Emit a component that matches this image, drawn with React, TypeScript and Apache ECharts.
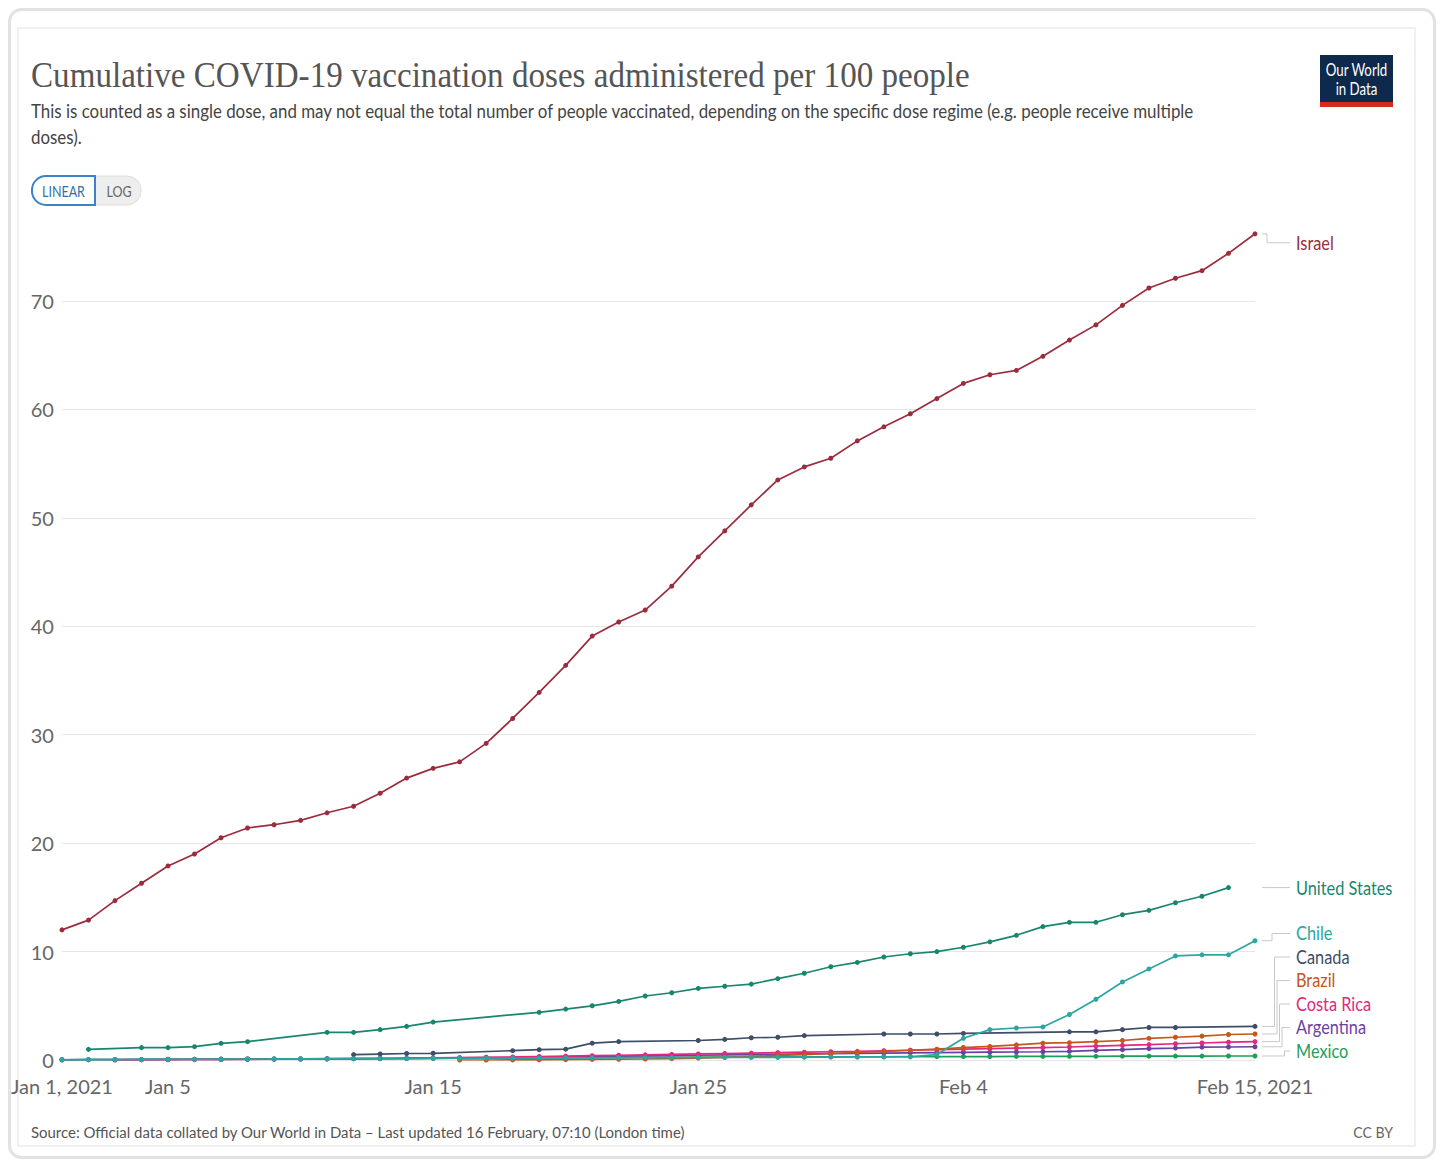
import React, { useEffect, useRef } from "react";
import * as echarts from "echarts";

const dates = [
  "Jan 1", "Jan 2", "Jan 3", "Jan 4", "Jan 5", "Jan 6", "Jan 7", "Jan 8", "Jan 9", "Jan 10",
  "Jan 11", "Jan 12", "Jan 13", "Jan 14", "Jan 15", "Jan 16", "Jan 17", "Jan 18", "Jan 19", "Jan 20",
  "Jan 21", "Jan 22", "Jan 23", "Jan 24", "Jan 25", "Jan 26", "Jan 27", "Jan 28", "Jan 29", "Jan 30",
  "Jan 31", "Feb 1", "Feb 2", "Feb 3", "Feb 4", "Feb 5", "Feb 6", "Feb 7", "Feb 8", "Feb 9",
  "Feb 10", "Feb 11", "Feb 12", "Feb 13", "Feb 14", "Feb 15",
];

const tickDates = ["Jan 1", "Jan 5", "Jan 15", "Jan 25", "Feb 4", "Feb 15"];
const tickTexts = ["Jan 1, 2021", "Jan 5", "Jan 15", "Jan 25", "Feb 4", "Feb 15, 2021"];
const yTicks = [0, 10, 20, 30, 40, 50, 60, 70];

const israel = [
  12.0, 12.9, 14.7, 16.3, 17.9, 19.0, 20.5, 21.4, 21.7, 22.1,
  22.8, 23.4, 24.6, 26.0, 26.9, 27.5, 29.2, 31.5, 33.9, 36.4,
  39.1, 40.4, 41.5, 43.7, 46.4, 48.8, 51.2, 53.5, 54.7, 55.5,
  57.1, 58.4, 59.6, 61.0, 62.4, 63.2, 63.6, 64.9, 66.4, 67.8,
  69.6, 71.2, 72.1, 72.8, 74.4, 76.2,
];

const unitedStates = [
  null, 0.98, null, 1.14, 1.14, 1.23, 1.54, 1.69, null, null,
  2.55, 2.55, 2.8, 3.1, 3.5, null, null, null, 4.4, 4.7,
  5.0, 5.4, 5.9, 6.2, 6.6, 6.8, 7.0, 7.5, 8.0, 8.6,
  9.0, 9.5, 9.8, 10.0, 10.4, 10.9, 11.5, 12.3, 12.7, 12.7,
  13.4, 13.8, 14.5, 15.1, 15.9, null,
];

const chile = [
  0.02, 0.03, 0.04, 0.05, 0.06, 0.07, 0.08, 0.09, 0.1, 0.1,
  0.11, 0.12, 0.13, 0.14, 0.15, 0.16, 0.17, 0.18, 0.19, 0.2,
  0.2, 0.21, 0.22, 0.22, 0.23, 0.24, 0.25, 0.25, 0.26, 0.27,
  0.28, 0.29, 0.3, 0.5, 2.0, 2.8, 2.95, 3.05, 4.2, 5.6,
  7.2, 8.4, 9.6, 9.7, 9.7, 11.0,
];

const canada = [
  null, null, null, null, null, null, null, null, null, null,
  null, 0.5, 0.55, 0.6, 0.62, null, null, 0.86, 0.95, 1.0,
  1.55, 1.7, null, null, 1.8, 1.9, 2.05, 2.1, 2.25, null,
  null, 2.4, 2.4, 2.4, 2.45, null, null, null, 2.6, 2.6,
  2.8, 3.0, 3.0, null, null, 3.1,
];

const brazil = [
  null, null, null, null, null, null, null, null, null, null,
  null, null, null, null, null, 0.0, 0.0, 0.01, 0.02, 0.03,
  0.05, 0.07, 0.09, 0.12, 0.18, 0.25, 0.33, 0.42, 0.5, 0.6,
  0.7, 0.8, 0.9, 1.0, 1.15, 1.25, 1.4, 1.55, 1.6, 1.7,
  1.8, 2.0, 2.1, 2.2, 2.35, 2.4,
];

const costaRica = [
  null, null, 0.0, 0.01, 0.02, 0.03, 0.04, 0.06, 0.07, 0.08,
  0.1, 0.12, 0.14, 0.17, 0.2, 0.22, 0.25, 0.28, 0.32, 0.36,
  0.4, 0.44, 0.48, 0.52, 0.56, 0.6, 0.64, 0.68, 0.72, 0.76,
  0.8, 0.85, 0.9, 0.95, 1.0, 1.05, 1.1, 1.15, 1.2, 1.28,
  1.35, 1.42, 1.5, 1.57, 1.64, 1.7,
];

const argentina = [
  0.02, 0.03, 0.04, 0.05, 0.06, 0.07, 0.08, 0.09, 0.1, 0.11,
  0.12, 0.13, 0.14, 0.15, 0.17, 0.19, 0.21, 0.23, 0.26, 0.29,
  0.32, 0.35, 0.38, 0.41, 0.44, 0.47, 0.5, 0.53, 0.56, 0.59,
  0.62, 0.64, 0.66, 0.68, 0.7, 0.72, 0.74, 0.76, 0.8, 0.88,
  0.95, 1.05, 1.1, 1.18, 1.2, 1.22,
];

const mexico = [
  0.02, 0.03, 0.03, 0.04, 0.05, 0.06, 0.06, 0.07, 0.08, 0.09,
  0.1, 0.11, 0.12, 0.13, 0.15, 0.16, 0.17, 0.18, 0.19, 0.2,
  0.21, 0.22, 0.24, 0.25, 0.26, 0.27, 0.28, 0.28, 0.29, 0.3,
  0.3, 0.3, 0.31, 0.31, 0.32, 0.32, 0.33, 0.33, 0.34, 0.34,
  0.35, 0.35, 0.36, 0.36, 0.37, 0.37,
];

const seriesNames = ["Israel", "United States", "Chile", "Canada", "Brazil", "Costa Rica", "Argentina", "Mexico"];
const seriesData = [israel, unitedStates, chile, canada, brazil, costaRica, argentina, mexico];
const seriesColors = ["#9B2C3E", "#18866F", "#2BA6A0", "#3E4D68", "#C4561E", "#E3287D", "#6C3FA3", "#1D9E5A"];

const titleText = "Cumulative COVID-19 vaccination doses administered per 100 people";
const subtitleText =
  "This is counted as a single dose, and may not equal the total number of people vaccinated, depending on the specific dose regime (e.g. people receive multiple\ndoses).";
const sourceText =
  "Source: Official data collated by Our World in Data – Last updated 16 February, 07:10 (London time)";

const W = 1428;
const H = 1151;
const SANS = "Lato, 'Noto Sans', sans-serif";

export default function App() {
  const ref = useRef<HTMLDivElement>(null);

  useEffect(() => {
    if (!ref.current) return;
    const chart = echarts.init(ref.current, null, { renderer: "svg" });

    const gridLineColors = yTicks.map(() => "#e6e6e6").concat(["rgba(0,0,0,0)"]);

    chart.setOption({
      animation: false,
      backgroundColor: "#ffffff",
      textStyle: { fontFamily: SANS },
      grid: { left: 50, right: 181, top: 184.6, bottom: 99, containLabel: false },
      xAxis: {
        type: "category",
        data: dates,
        boundaryGap: false,
        axisLine: { show: false },
        axisTick: { show: false },
        splitLine: { show: false },
        axisLabel: {
          interval: (_i: number, v: string) => tickDates.includes(v),
          formatter: (v: string) => tickTexts[tickDates.indexOf(v)] ?? "",
          color: "#666666",
          fontSize: 20,
          fontFamily: SANS,
          margin: 16,
        },
      },
      yAxis: {
        type: "value",
        min: 0,
        max: 80,
        interval: 10,
        axisLine: { show: false },
        axisTick: { show: false },
        axisLabel: {
          formatter: (v: number) => (v === 80 ? "" : String(v)),
          color: "#666666",
          fontSize: 20,
          fontFamily: SANS,
          margin: 8,
        },
        splitLine: { show: true, lineStyle: { color: gridLineColors, width: 1 } },
      },
      series: seriesNames.map((name, i) => ({
        name,
        type: "line",
        data: seriesData[i],
        connectNulls: true,
        symbol: "circle",
        symbolSize: 5,
        showSymbol: true,
        lineStyle: { width: 1.7, color: seriesColors[i] },
        itemStyle: { color: seriesColors[i] },
        emphasis: { disabled: true },
        z: 2 + (seriesNames.length - i),
      })),
    });

    // End labels computed from the library's scales
    const lastIdx = dates.length - 1;
    const zeroY = (chart.convertToPixel({ gridIndex: 0 }, [0, 0]) as number[])[1];
    const endX = (chart.convertToPixel({ gridIndex: 0 }, [lastIdx, 0]) as number[])[0];
    const items = seriesNames.map((name, i) => {
      const d = seriesData[i];
      let v = 0;
      for (let k = d.length - 1; k >= 0; k--) {
        if (d[k] != null) { v = d[k] as number; break; }
      }
      const y = (chart.convertToPixel({ gridIndex: 0 }, [lastIdx, v]) as number[])[1];
      return { name, color: seriesColors[i], ideal: y, pos: y };
    });
    const sorted = [...items].sort((a, b) => b.ideal - a.ideal);
    const gap = 23.5;
    let prev = Infinity;
    sorted.forEach((it) => {
      let p = Math.min(it.ideal, zeroY - 9);
      p = Math.min(p, prev - gap);
      it.pos = p;
      prev = p;
    });
    const topDown = [...items].sort((a, b) => a.pos - b.pos);
    // the top label sits a little below its point, as in the reference
    if (topDown.length) topDown[0].pos = topDown[0].ideal + 9;
    const labelX = endX + 41;
    const labelGraphics: any[] = [];
    topDown.forEach((it, idx) => {
      const elbow = endX + 12 + idx * 2.5;
      labelGraphics.push({
        type: "polyline",
        shape: {
          points: [
            [endX + 7, it.ideal],
            [elbow, it.ideal],
            [elbow, it.pos],
            [labelX - 6, it.pos],
          ],
        },
        style: { stroke: "#c8c8c8", lineWidth: 1, fill: null },
        silent: true,
      });
      labelGraphics.push({
        type: "text",
        x: labelX,
        y: it.pos,
        scaleX: 0.86,
        style: {
          text: it.name,
          fill: it.color,
          fontSize: 19,
          fontFamily: SANS,
          verticalAlign: "middle",
          align: "left",
        },
        silent: true,
      });
    });

    const staticGraphics: any[] = [
      {
        type: "rect",
        shape: { x: 1.5, y: 1.5, width: W - 3, height: H - 3, r: 12 },
        style: { stroke: "#e2e2e2", lineWidth: 3, fill: null },
        silent: true,
      },
      {
        type: "rect",
        shape: { x: 10, y: 20, width: 1397, height: 1118 },
        style: { stroke: "#ececec", lineWidth: 1.5, fill: null },
        silent: true,
      },
      {
        type: "text",
        x: 23,
        y: 67,
        scaleX: 0.92,
        style: {
          text: titleText,
          fill: "#555555",
          fontSize: 36,
          fontFamily: "'Liberation Serif', 'DejaVu Serif', serif",
          verticalAlign: "middle",
        },
        silent: true,
      },
      {
        type: "text",
        x: 23,
        y: 90,
        scaleX: 0.89,
        style: {
          text: subtitleText,
          fill: "#444444",
          fontSize: 19,
          lineHeight: 26,
          fontFamily: SANS,
          verticalAlign: "top",
        },
        silent: true,
      },
      // LINEAR / LOG toggle
      {
        type: "rect",
        shape: { x: 86, y: 168, width: 47, height: 29, r: [0, 14, 14, 0] },
        style: { fill: "#eeeeee", stroke: "#dddddd", lineWidth: 1 },
        silent: true,
      },
      {
        type: "rect",
        shape: { x: 24, y: 168, width: 63, height: 29, r: [14, 0, 0, 14] },
        style: { fill: "#ffffff", stroke: "#3b82c9", lineWidth: 2 },
        silent: true,
      },
      {
        type: "text",
        x: 55.5,
        y: 182.5,
        scaleX: 0.78,
        style: { text: "LINEAR", fill: "#2f6fb5", fontSize: 16, fontFamily: SANS, align: "center", verticalAlign: "middle" },
        silent: true,
      },
      {
        type: "text",
        x: 111,
        y: 182.5,
        scaleX: 0.78,
        style: { text: "LOG", fill: "#666666", fontSize: 16, fontFamily: SANS, align: "center", verticalAlign: "middle" },
        silent: true,
      },
      // logo
      {
        type: "rect",
        shape: { x: 1312, y: 47, width: 73, height: 47 },
        style: { fill: "#0d2a4d" },
        silent: true,
      },
      {
        type: "rect",
        shape: { x: 1312, y: 94, width: 73, height: 5 },
        style: { fill: "#d42b21" },
        silent: true,
      },
      {
        type: "text",
        x: 1348.5,
        y: 61,
        scaleX: 0.78,
        style: { text: "Our World", fill: "#ffffff", fontSize: 17, fontFamily: SANS, align: "center", verticalAlign: "middle" },
        silent: true,
      },
      {
        type: "text",
        x: 1348.5,
        y: 80,
        scaleX: 0.78,
        style: { text: "in Data", fill: "#ffffff", fontSize: 17, fontFamily: SANS, align: "center", verticalAlign: "middle" },
        silent: true,
      },
      // footer
      {
        type: "text",
        x: 23,
        y: 1124,
        scaleX: 0.935,
        style: { text: sourceText, fill: "#555555", fontSize: 16, fontFamily: SANS, verticalAlign: "middle" },
        silent: true,
      },
      {
        type: "text",
        x: 1385,
        y: 1124,
        scaleX: 0.88,
        style: { text: "CC BY", fill: "#666666", fontSize: 16, fontFamily: SANS, align: "right", verticalAlign: "middle" },
        silent: true,
      },
    ];

    chart.setOption({ graphic: [...staticGraphics, ...labelGraphics] });

    return () => chart.dispose();
  }, []);

  return (
    <div style={{ width: W, height: H, position: "relative" }}>
      <div ref={ref} style={{ width: W, height: H }} />
    </div>
  );
}
